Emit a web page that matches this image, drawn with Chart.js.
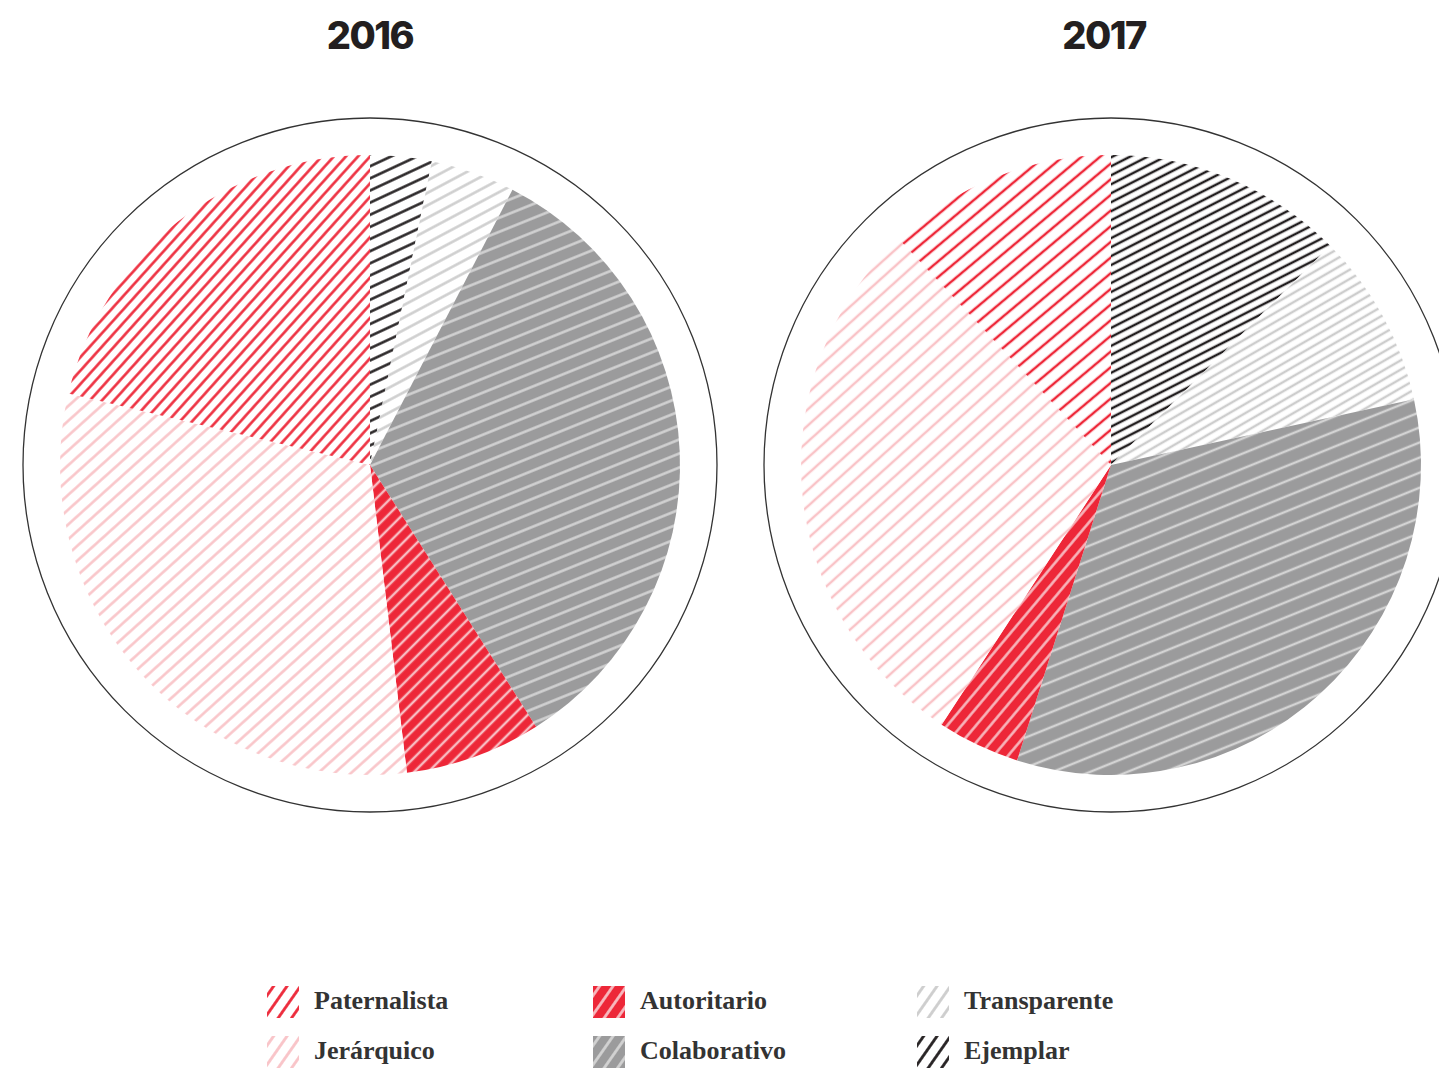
<!DOCTYPE html>
<html>
<head>
<meta charset="utf-8">
<script src="https://cdn.jsdelivr.net/npm/chart.js@4.4.0/dist/chart.umd.min.js"></script>
<style>
html, body { margin: 0; padding: 0; overflow: hidden; background: #fff; width: 1439px; height: 1068px; }
.title { position: absolute; top: 12px; width: 740px; text-align: center; font-family: Inter, sans-serif; font-weight: 800; font-size: 38px; letter-spacing: -1.5px; color: #231f20; }
.pie { position: absolute; top: 90px; }
.item { position: absolute; height: 32px; }
.item canvas { position: absolute; left: 0; top: 0; }
.item span { position: absolute; left: 47px; top: -1px; white-space: nowrap; font-family: "Liberation Serif", serif; font-weight: bold; font-size: 26px; line-height: 32px; color: #333; }
</style>
</head>
<body>
<div class="title" style="left:0">2016</div>
<div class="title" style="left:734px">2017</div>
<canvas id="pie2016" class="pie" width="740" height="750" style="left:0"></canvas>
<canvas id="pie2017" class="pie" width="740" height="750" style="left:741px"></canvas>
<div id="legend"></div>
<script>
// slices clockwise from 12 o'clock
var categories = ["Ejemplar", "Transparente", "Colaborativo", "Autoritario", "Jerárquico", "Paternalista"];
var values2016 = [3.2, 4.4, 33.4, 7.1, 30.6, 21.3];
var values2017 = [12.5, 9.1, 33.3, 4.3, 28.8, 12.0];
var legendOrder = ["Paternalista", "Autoritario", "Transparente", "Jerárquico", "Colaborativo", "Ejemplar"];

// fill colours per category: [background, stripe]
var colors = {
    "Ejemplar": ["#ffffff", "#231f20"],
    "Transparente": ["#ffffff", "#cdcdcd"],
    "Colaborativo": ["#9b9b9c", "#d3d3d3"],
    "Autoritario": ["#ed2738", "#f8bcc1"],
    "Jerárquico": ["#ffffff", "#f9c3c7"],
    "Paternalista": ["#ffffff", "#ed2738"]
};

// stripe angle, gap, width for each slice
var hatch2016 = {
    "Ejemplar": [25, 11, 2.5],
    "Transparente": [28, 11, 2.5],
    "Colaborativo": [22, 13, 2.5],
    "Autoritario": [45, 10, 2.5],
    "Jerárquico": [42, 11, 2.5],
    "Paternalista": [48, 9, 2.5]
};
var hatch2017 = {
    "Ejemplar": [27, 8, 2.5],
    "Transparente": [30, 8, 2.5],
    "Colaborativo": [22, 14, 2.5],
    "Autoritario": [50, 11, 2.5],
    "Jerárquico": [42, 12, 2.5],
    "Paternalista": [40, 12, 2.5]
};

function hatch(bg, line, angle, gap, width) {
    var c = document.createElement("canvas");
    c.width = 4;
    c.height = gap;
    var x = c.getContext("2d");
    x.fillStyle = bg;
    x.fillRect(0, 0, 4, gap);
    x.fillStyle = line;
    x.fillRect(0, (gap - width) / 2, 4, width);
    var p = x.createPattern(c, "repeat");
    p.setTransform(new DOMMatrix().rotate(-angle));
    return p;
}

function patternsFor(h) {
    return categories.map(function(name) {
        var s = h[name];
        return hatch(colors[name][0], colors[name][1], s[0], s[1], s[2]);
    });
}

var ring = {
    id: "ring",
    beforeDatasetsDraw: function(chart) {
        var arc = chart.getDatasetMeta(0).data[0];
        var ctx = chart.ctx;
        ctx.save();
        ctx.beginPath();
        ctx.arc(arc.x, arc.y, 347, 0, Math.PI * 2);
        ctx.strokeStyle = "#333";
        ctx.lineWidth = 1.3;
        ctx.stroke();
        ctx.restore();
    }
};

function drawPie(id, values, h) {
    var ctx = document.getElementById(id).getContext("2d");
    return new Chart(ctx, {
        type: "pie",
        data: {
            labels: categories,
            datasets: [{
                data: values,
                backgroundColor: patternsFor(h),
                borderWidth: 0
            }]
        },
        options: {
            responsive: false,
            animation: false,
            radius: 310,
            plugins: {
                legend: { display: false },
                tooltip: { enabled: false }
            }
        },
        plugins: [ring]
    });
}

window.P2016 = drawPie("pie2016", values2016, hatch2016);
window.P2017 = drawPie("pie2017", values2017, hatch2017);

// legend, 3 columns x 2 rows
var legend = document.getElementById("legend");
legendOrder.forEach(function(name, i) {
    var col = i % 3, row = Math.floor(i / 3);
    var item = document.createElement("div");
    item.className = "item";
    item.style.left = [267, 593, 917][col] + "px";
    item.style.top = (986 + row * 50) + "px";
    var sw = document.createElement("canvas");
    sw.width = 32;
    sw.height = 32;
    var sx = sw.getContext("2d");
    sx.fillStyle = hatch(colors[name][0], colors[name][1], 55, 11, 2.8);
    sx.fillRect(0, 0, 32, 32);
    var label = document.createElement("span");
    label.textContent = name;
    item.appendChild(sw);
    item.appendChild(label);
    legend.appendChild(item);
});
</script>
</body>
</html>
